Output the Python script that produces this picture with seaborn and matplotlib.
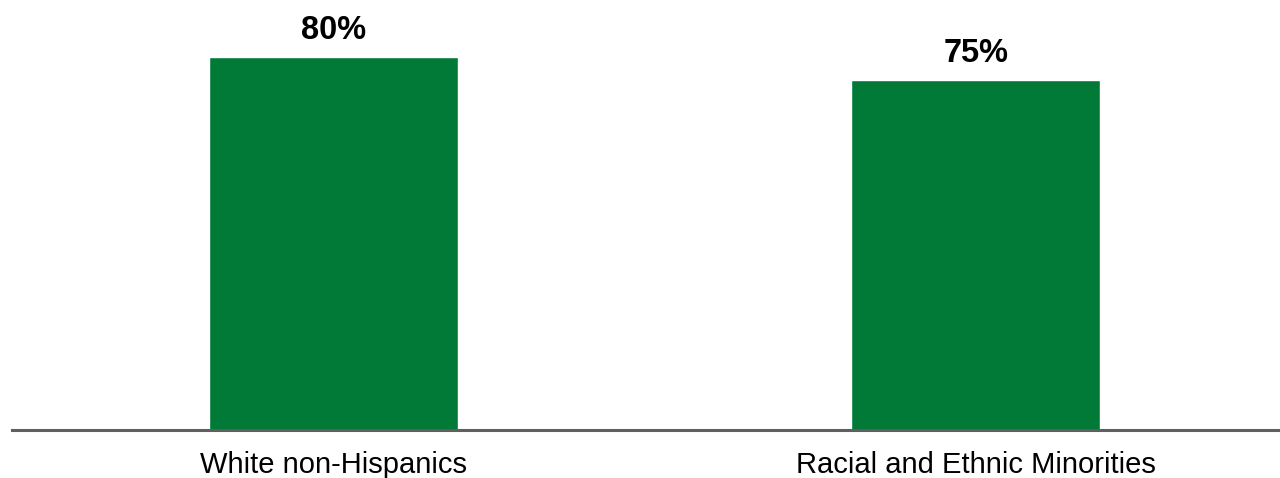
import matplotlib
matplotlib.use("Agg")
import matplotlib.pyplot as plt
import seaborn as sns
import pandas as pd

# chart data
categories = ["White non-Hispanics", "Racial and Ethnic Minorities"]
values = [80, 75]
value_labels = ["80%", "75%"]

bar_color = "#017A37"
axis_color = "#5F5F5F"

sns.set_style("white")
plt.rcParams['font.family'] = ['Liberation Sans', 'DejaVu Sans']
plt.rcParams['text.color'] = 'black'
plt.rcParams['xtick.color'] = 'black'

df = pd.DataFrame({"group": categories, "share": values})

fig = plt.figure(figsize=(12.8, 4.78), dpi=100)
ax = fig.add_axes([12 / 1280, 48 / 478, 1 - 12 / 1280, 430 / 478])

sns.barplot(data=df, x="group", y="share", color=bar_color, width=0.388,
            saturation=1, ax=ax)

# value labels above bars
for i, (v, lab) in enumerate(zip(values, value_labels)):
    ax.annotate(lab, (i, v), xytext=(0, 13), textcoords="offset points",
                ha="center", va="baseline", fontsize=23.5, fontweight="bold",
                color="black")

ax.set_xlim(-0.5008, 1.474)
ax.set_ylim(0, 92.2)
ax.set_xlabel("")
ax.set_ylabel("")
ax.set_yticks([])
ax.tick_params(axis="x", length=0, labelsize=21, labelcolor="black", pad=15)
for side in ["top", "right", "left"]:
    ax.spines[side].set_visible(False)
ax.spines["bottom"].set_color(axis_color)
ax.spines["bottom"].set_linewidth(2.2)

fig.savefig("out.png", dpi=100)
plt.close(fig)
